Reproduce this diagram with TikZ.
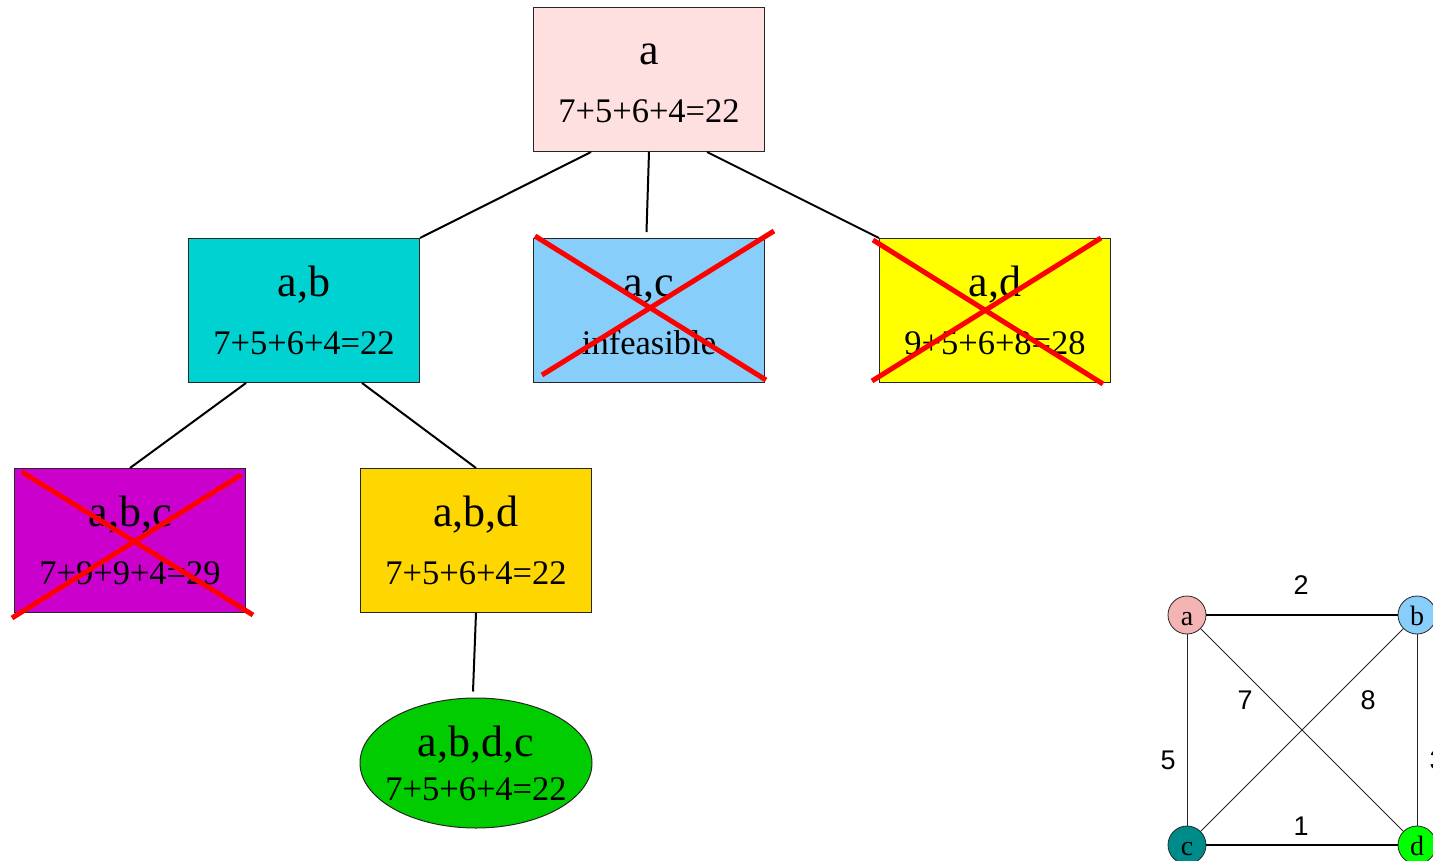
\documentclass[tikz,border=0pt]{standalone}
\usepackage{fontspec}
\setmainfont{Liberation Serif}
\newfontfamily\gsans{Liberation Sans}
\usetikzlibrary{shapes.geometric,calc}

\definecolor{cpink}{RGB}{255,224,224}
\definecolor{cturq}{RGB}{0,209,209}
\definecolor{csky}{RGB}{135,206,250}
\definecolor{cyel}{RGB}{255,255,0}
\definecolor{cmag}{RGB}{204,0,204}
\definecolor{cgold}{RGB}{255,215,0}
\definecolor{cgreen}{RGB}{0,204,0}
\definecolor{gpink}{RGB}{245,180,180}
\definecolor{gteal}{RGB}{0,139,139}
\definecolor{glime}{RGB}{0,255,0}

\begin{document}
\begin{tikzpicture}[x=1pt,y=-1pt,
 box/.style={draw=black!85, line width=1pt, minimum width=231pt, minimum height=144pt, inner sep=0pt, anchor=north west},
 big/.style={font=\fontsize{44}{48}\selectfont, anchor=base, inner sep=0pt},
 small/.style={font=\fontsize{34.5}{40}\selectfont, anchor=base, inner sep=0pt},
 conn/.style={line width=2pt, black},
 cross/.style={line width=5pt, red},
 vtx/.style={circle, draw=black!85, line width=0.8pt, minimum size=38pt, inner sep=0pt, text height=20pt, text depth=0pt, font=\fontsize{28}{30}\selectfont},
 gthick/.style={line width=1.6pt, black},
 gthin/.style={line width=0.8pt, black!85},
 glab/.style={font=\gsans\fontsize{27}{30}\selectfont, inner sep=0pt}
]
\useasboundingbox (0,0) rectangle (1433,861);

% tree boxes
\node[box, fill=cpink] (na) at (533,7) {};
\node[box, fill=cturq] (nab) at (188,238) {};
\node[box, fill=csky] (nac) at (533,238) {};
\node[box, fill=cyel] (nad) at (879,238) {};
\node[box, fill=cmag] (nabc) at (14,468) {};
\node[box, fill=cgold] (nabd) at (360,468) {};
\node[ellipse, draw=black!85, line width=1pt, fill=cgreen, minimum width=232pt, minimum height=130pt, inner sep=0pt] (nabdc) at (476,763) {};

% texts
\node[big] (ta1) at ([yshift=-58pt]na.north) {a};
\node[small] (ta2) at ([yshift=-116pt]na.north) {7+5+6+4=22};
\node[big] (tab1) at ([yshift=-58pt]nab.north) {a,b};
\node[small] (tab2) at ([yshift=-116pt]nab.north) {7+5+6+4=22};
\node[big] (tac1) at ([yshift=-58pt]nac.north) {a,c};
\node[small] (tac2) at ([yshift=-116pt]nac.north) {infeasible};
\node[big] (tad1) at ([yshift=-58pt]nad.north) {a,d};
\node[small] (tad2) at ([yshift=-116pt]nad.north) {9+5+6+8=28};
\node[big] (tabc1) at ([yshift=-58pt]nabc.north) {a,b,c};
\node[small] (tabc2) at ([yshift=-116pt]nabc.north) {7+9+9+4=29};
\node[big] (tabd1) at ([yshift=-58pt]nabd.north) {a,b,d};
\node[small] (tabd2) at ([yshift=-116pt]nabd.north) {7+5+6+4=22};
\node[big] (tabdc1) at ([yshift=7pt]nabdc.center) {a,b,d,c};
\node[small] (tabdc2) at ([yshift=-37pt]nabdc.center) {7+5+6+4=22};

% connectors
\draw[conn] ($(na.south west)!0.25!(na.south east)$) -- (nab.north east);
\draw[conn] (na.south) -- ([xshift=-2.5pt,yshift=6pt]nac.north);
\draw[conn] ($(na.south west)!0.75!(na.south east)$) -- (nad.north west);
\draw[conn] ($(nab.south west)!0.25!(nab.south east)$) -- (nabc.north);
\draw[conn] ($(nab.south west)!0.75!(nab.south east)$) -- (nabd.north);
\draw[conn] (nabd.south) -- ([xshift=-3pt,yshift=6pt]nabdc.north);

% red crosses
\draw[cross] ([xshift=2pt,yshift=2pt]nac.north west) -- ([xshift=1pt,yshift=3pt]nac.south east);
\draw[cross] ([xshift=9pt,yshift=8pt]nac.south west) -- ([xshift=9pt,yshift=7pt]nac.north east);
\draw[cross] ([xshift=-6pt,yshift=-2pt]nad.north west) -- ([xshift=-8pt,yshift=-1pt]nad.south east);
\draw[cross] ([xshift=-7pt,yshift=2pt]nad.south west) -- ([xshift=-10pt]nad.north east);
\draw[cross] ([xshift=8pt,yshift=-4pt]nabc.north west) -- ([xshift=7pt,yshift=-2pt]nabc.south east);
\draw[cross] ([xshift=-2pt,yshift=-5pt]nabc.south west) -- ([xshift=-5pt,yshift=-7pt]nabc.north east);

% small graph
\node[vtx, fill=gpink] (ga) at (1187,615) {a};
\node[vtx, fill=csky] (gb) at (1417,615) {b};
\node[vtx, fill=gteal] (gc) at (1187,845) {c};
\node[vtx, fill=glime] (gd) at (1417,845) {d};
\draw[gthick] (ga) -- (gb);
\draw[gthick] (gc) -- (gd);
\draw[gthin] (ga) -- (gc);
\draw[gthin] (gb) -- (gd);
\draw[gthin] (ga) -- (gd);
\draw[gthin] (gb) -- (gc);
\node[glab] (l2) at (1301,585) {2};
\node[glab] (l7) at (1245,700) {7};
\node[glab] (l8) at (1368,700) {8};
\node[glab] (l5) at (1168,760) {5};
\node[glab] (l3) at (1437,760) {3};
\node[glab] (l1) at (1301,826) {1};
\end{tikzpicture}
\end{document}
